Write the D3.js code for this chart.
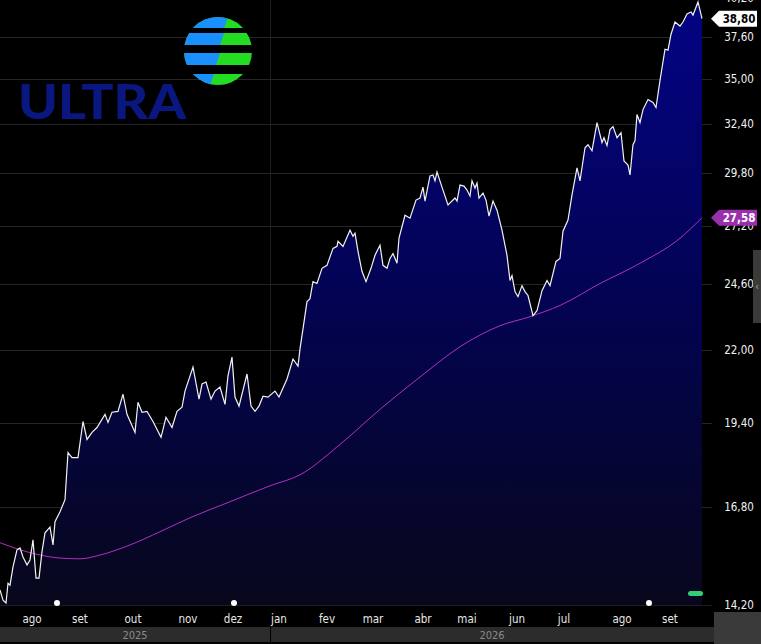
<!DOCTYPE html>
<html><head><meta charset="utf-8">
<script src="https://cdn.jsdelivr.net/npm/d3@7"></script>
<style>body{margin:0;background:#000;overflow:hidden}svg{display:block}</style>
</head><body><svg id="c" width="761" height="644"></svg>
<script>
// trading-session index (0..702) and closing price
const priceT=[0,3,6,8,10,13,17,20,23,27,30,33,36,39,42,45,50,53,55,60,65,68,72,78,83,87,92,97,105,108,112,118,123,127,135,138,142,147,153,161,166,172,177,182,185,193,199,202,206,211,215,220,225,228,232,235,239,247,251,255,259,263,268,275,279,287,293,298,300,303,307,310,313,317,322,327,333,337,338,343,350,353,355,358,362,366,371,375,380,383,387,390,393,397,399,405,410,416,420,423,425,430,433,435,437,443,448,455,457,460,464,467,470,472,475,477,479,483,486,489,493,497,502,507,510,512,515,518,522,525,528,533,537,542,547,550,556,560,563,568,572,577,580,585,588,592,597,602,604,607,610,613,617,621,624,628,630,633,635,637,640,643,648,653,656,660,665,668,671,675,680,683,687,691,693,698,702];
const priceV=[14.57,14.32,14.25,14.74,14.69,15.16,15.61,15.66,15.42,15.21,15.34,15.88,14.87,14.87,15.56,16.07,16.23,15.74,16.38,16.66,17.01,18.44,18.28,18.28,19.45,18.86,19.09,19.25,19.69,19.42,19.76,19.79,20.38,19.69,19.09,20.10,19.76,19.79,19.45,18.93,19.59,19.25,19.79,19.93,20.49,21.35,20.21,20.74,20.81,20.21,20.49,20.63,20.03,21.03,21.72,20.28,19.97,21.10,19.97,19.79,19.97,20.31,20.28,20.49,20.28,20.92,21.65,21.39,22.03,22.80,23.89,24.01,24.72,24.64,25.29,25.42,26.17,26.26,26.49,26.26,27.00,26.72,26.86,26.04,25.16,24.72,25.29,25.86,26.31,25.42,25.29,25.72,25.94,25.51,26.63,27.70,27.56,28.43,28.53,29.07,28.38,29.63,29.68,29.38,29.83,28.92,28.19,28.53,28.38,29.17,29.12,28.92,28.63,29.38,29.02,29.27,28.53,28.77,28.43,27.66,28.38,27.94,27.00,25.86,24.77,24.98,24.30,24.09,24.55,24.30,24.14,23.32,23.52,24.34,24.77,24.55,25.59,25.72,26.95,27.47,28.68,30.04,29.38,31.10,31.26,30.94,32.47,31.37,31.64,31.21,32.08,32.25,31.64,31.91,30.40,30.19,29.68,31.26,31.48,32.92,32.47,33.20,33.78,33.61,33.32,34.91,36.82,36.76,37.78,38.58,38.31,38.58,39.11,39.25,39.04,39.93,38.80];
const maT=[0,20,40,60,80,100,130,160,190,230,270,300,340,380,420,460,500,530,560,600,640,680,702];
const maV=[15.80,15.61,15.47,15.39,15.37,15.47,15.74,16.10,16.49,16.95,17.42,17.75,18.70,19.86,20.99,22.11,22.92,23.28,23.73,24.64,25.51,26.63,27.58];
const yTicks=[14.2,16.8,19.4,22.0,24.6,27.2,29.8,32.4,35.0,37.6,40.2];
const monthLabels=["ago","set","out","nov","dez","jan","fev","mar","abr","mai","jun","jul","ago","set"];
const monthT=[32,80,133,188,233,279,327,373,423,467,517,564,622,670];
const years=[{label:"2025",from:0,to:270},{label:"2026",from:270,to:714}];
const dotT=[57,234,649];
const lastPrice="38,80", lastMA="27,58";

const svg=d3.select("#c");
const fmt=v=>v.toFixed(2).replace(".",",");
const x=d3.scaleLinear().domain([0,702]).range([0,702]);
const y=d3.scaleLog().domain([14.2,37.6]).range([605,37]);
const plotR=712;

const defs=svg.append("defs");
const g=defs.append("linearGradient").attr("id","ag").attr("gradientUnits","userSpaceOnUse").attr("x1",0).attr("y1",0).attr("x2",0).attr("y2",605);
g.append("stop").attr("offset",0).attr("stop-color","#030385");
g.append("stop").attr("offset",0.5).attr("stop-color","#030352");
g.append("stop").attr("offset",1).attr("stop-color","#07071c");

svg.append("rect").attr("width",761).attr("height",644).attr("fill","#000");

svg.append("g").selectAll("line").data(yTicks).join("line")
 .attr("x1",0).attr("x2",plotR).attr("y1",d=>Math.round(y(d))+0.5).attr("y2",d=>Math.round(y(d))+0.5)
 .attr("stroke","#262626");
svg.append("line").attr("x1",270.5).attr("x2",270.5).attr("y1",0).attr("y2",606).attr("stroke","#1e1e1e");

// logo
const logo=svg.append("g");
logo.append("text").attr("x",18).attr("y",119).text("ULTRA")
 .attr("font-family","Lato, DejaVu Sans").attr("font-weight",900).attr("font-size",48).attr("fill","#0b1780")
 .attr("textLength",168).attr("lengthAdjust","spacingAndGlyphs");
defs.append("clipPath").attr("id","gc").append("circle").attr("cx",218).attr("cy",51).attr("r",34);
const gl=logo.append("g").attr("clip-path","url(#gc)");
[[17,28],[33,45],[53,65],[74,86]].forEach(([a,b],i)=>{
  const w=[44,40,36,30][i];
  gl.append("rect").attr("x",180).attr("y",a).attr("width",80).attr("height",b-a).attr("fill","#22dd22");
  gl.append("path").attr("d",`M180,${a} L${180+w+4},${a} L${180+w},${b} L180,${b} Z`).attr("fill","#1a90ff");
});

const area=d3.area().x((d,i)=>x(priceT[i])).y0(605).y1(d=>y(d));
svg.append("path").datum(priceV).attr("d",area).attr("fill","url(#ag)");
svg.append("line").attr("x1",0).attr("x2",plotR).attr("y1",605.5).attr("y2",605.5).attr("stroke","#1c1c2a");
const line=d3.line().x((d,i)=>x(maT[i])).y(d=>y(d)).curve(d3.curveMonotoneX);
svg.append("path").datum(maV).attr("d",line).attr("fill","none").attr("stroke","#b030c0").attr("stroke-width",1);
const pline=d3.line().x((d,i)=>x(priceT[i])).y(d=>y(d));
svg.append("path").datum(priceV).attr("d",pline).attr("fill","none").attr("stroke","#f2f2f2").attr("stroke-width",1.2);

svg.append("g").selectAll("circle").data(dotT).join("circle").attr("cx",d=>x(d)).attr("cy",603).attr("r",3).attr("fill","#fff");
svg.append("rect").attr("x",688).attr("y",591).attr("width",15).attr("height",5).attr("rx",2.5).attr("fill","#33cc77");

const tf="DejaVu Sans Condensed, DejaVu Sans, sans-serif";
svg.append("g").selectAll("text").data(yTicks).join("text")
 .attr("x",739).attr("y",d=>y(d)+4).attr("text-anchor","middle").text(fmt)
 .attr("font-family",tf).attr("font-size",11.5).attr("fill","#f0f0f0");
svg.append("rect").attr("x",753).attr("y",250).attr("width",8).attr("height",73).attr("fill","#3a3a3a");
svg.append("text").attr("x",757).attr("y",290).text("‹").attr("font-size",10).attr("fill","#aaa").attr("text-anchor","middle").attr("font-family",tf);

function tag(v,txt,bg,fg){
  const yy=y(v);
  svg.append("path").attr("d",`M711,${yy} L719,${yy-8} L757,${yy-8} L757,${yy+8} L719,${yy+8} Z`).attr("fill",bg);
  svg.append("text").attr("x",739).attr("y",yy+4).attr("text-anchor","middle").text(txt)
   .attr("font-family",tf).attr("font-weight","bold").attr("font-size",11.5).attr("fill",fg);
}
tag(priceV[priceV.length-1],lastPrice,"#ffffff","#000");
tag(maV[maV.length-1],lastMA,"#9a2fae","#fff");

svg.append("g").selectAll("text").data(monthLabels).join("text")
 .attr("x",(d,i)=>x(monthT[i])).attr("y",623).attr("text-anchor","middle").text(d=>d)
 .attr("font-family",tf).attr("font-size",11.5).attr("fill","#e8e8e8");
years.forEach(yr=>{
  svg.append("rect").attr("x",yr.from+(yr.from?1:0)).attr("y",627).attr("width",yr.to-yr.from-(yr.from?1:0)).attr("height",15).attr("fill","#2c2c2c");
  svg.append("text").attr("x",(yr.from+yr.to)/2).attr("y",639).attr("text-anchor","middle").text(yr.label)
   .attr("font-family",tf).attr("font-size",11).attr("fill","#8a8a8a");
});
svg.append("rect").attr("x",714).attr("y",612).attr("width",47).attr("height",32).attr("fill","#3a3a3a");
</script></body></html>
